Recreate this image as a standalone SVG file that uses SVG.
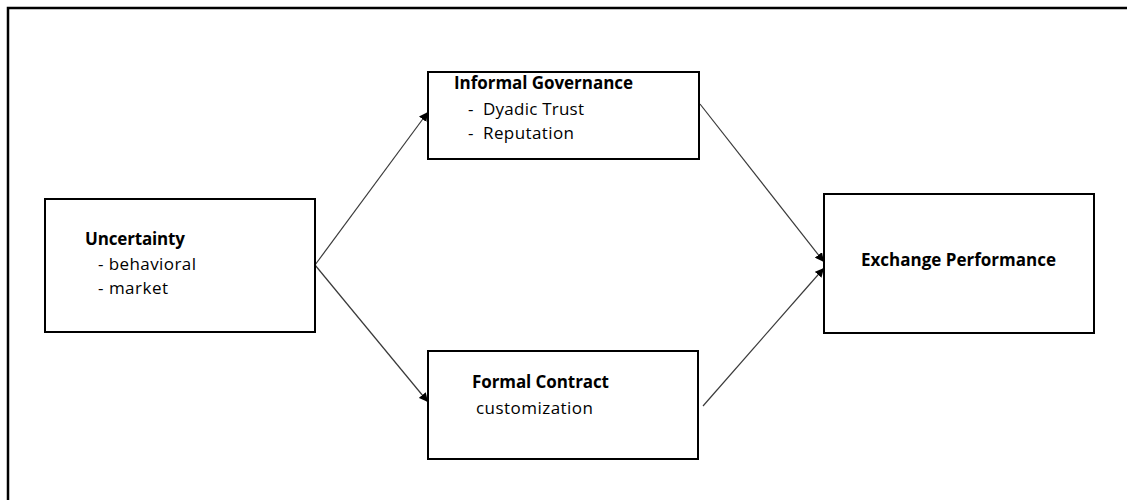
<svg xmlns="http://www.w3.org/2000/svg" width="1127" height="500" viewBox="0 0 1127 500">
  <defs>
    <style>
      .box { fill: #ffffff; stroke: #000000; stroke-width: 2; }
      .frame { fill: none; stroke: #000000; stroke-width: 2.5; }
      .edge { fill: none; stroke: #3a3a3a; stroke-width: 1.2; }
      .t { font-family: "Open Sans", "Noto Sans", sans-serif; font-size: 17px; fill: #000000; }
      .b { font-weight: bold; }
    </style>
    <marker id="arrow" viewBox="0 0 10 10" refX="10" refY="5" markerWidth="9" markerHeight="9" markerUnits="userSpaceOnUse" orient="auto">
      <path d="M0,0 L10,5 L0,10 z" fill="#000000"/>
    </marker>
  </defs>

  <rect width="1127" height="500" fill="#ffffff"/>
  <!-- outer frame, running past the right and bottom edges -->
  <rect class="frame" x="8" y="8" width="1140" height="520"/>

  <g id="connectors">
    <line class="edge" x1="315" y1="265" x2="428" y2="112" marker-end="url(#arrow)"/>
    <line class="edge" x1="315" y1="265" x2="428" y2="402" marker-end="url(#arrow)"/>
    <line class="edge" x1="700" y1="104" x2="824" y2="262" marker-end="url(#arrow)"/>
    <line class="edge" x1="703" y1="406" x2="824" y2="268" marker-end="url(#arrow)"/>
  </g>

  <g id="uncertainty">
    <rect class="box" x="45" y="199" width="270" height="133"/>
    <text class="t b" x="85" y="245" textLength="100">Uncertainty</text>
    <text class="t" x="98" y="270" textLength="98">- behavioral</text>
    <text class="t" x="98" y="294" textLength="70">- market</text>
  </g>

  <g id="informal-governance">
    <rect class="box" x="428" y="72" width="271" height="87"/>
    <text class="t b" x="454" y="89" textLength="179">Informal Governance</text>
    <text class="t" x="468" y="115">-</text>
    <text class="t" x="483" y="115" textLength="101">Dyadic Trust</text>
    <text class="t" x="468" y="139">-</text>
    <text class="t" x="483" y="139" textLength="91">Reputation</text>
  </g>

  <g id="formal-contract">
    <rect class="box" x="428" y="351" width="270" height="108"/>
    <text class="t b" x="472" y="388" textLength="137">Formal Contract</text>
    <text class="t" x="476" y="414" textLength="117">customization</text>
  </g>

  <g id="exchange-performance">
    <rect class="box" x="824" y="194" width="270" height="139"/>
    <text class="t b" x="861" y="266" textLength="195">Exchange Performance</text>
  </g>
</svg>
